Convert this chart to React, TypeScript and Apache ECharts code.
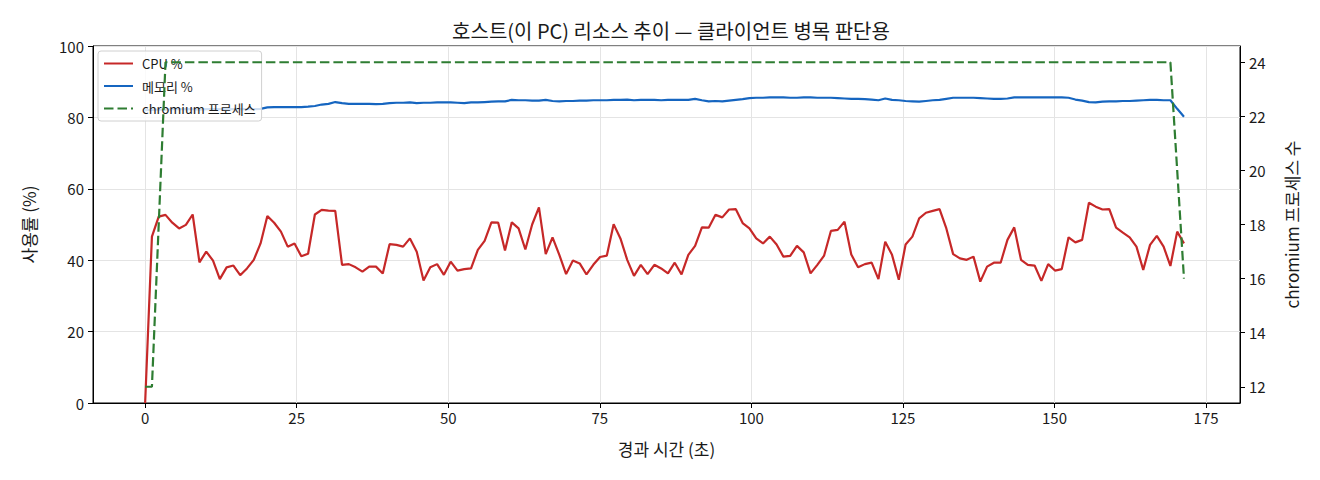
import { useEffect, useRef } from 'react';
import * as echarts from 'echarts';

// one sample roughly every 1.12 s
const SAMPLE_SEC = 1.12;

const cpuPct = [
  0, 46.6, 52.2, 52.7, 50.5, 48.9, 49.9, 52.8, 39.4, 42.4,
  39.9, 34.7, 38.0, 38.5, 35.8, 37.7, 40.1, 44.7, 52.4, 50.5,
  48.0, 43.8, 44.7, 41.1, 41.8, 52.8, 54.1, 53.9, 53.8, 38.7,
  38.9, 38.0, 36.8, 38.2, 38.2, 36.3, 44.5, 44.3, 43.8, 46.1,
  42.4, 34.3, 38.0, 38.9, 35.9, 39.6, 37.1, 37.5, 37.7, 42.9,
  45.4, 50.6, 50.5, 42.7, 50.6, 48.9, 43.0, 50.0, 54.8, 41.7,
  46.4, 41.5, 36.1, 39.9, 39.1, 36.0, 38.7, 40.9, 41.3, 50.1,
  46.1, 40.1, 35.6, 38.7, 36.1, 38.7, 37.7, 36.3, 39.3, 36.0,
  41.5, 44.0, 49.2, 49.1, 52.7, 52.0, 54.2, 54.3, 50.4, 48.9,
  46.1, 44.7, 46.6, 44.4, 41.0, 41.2, 44.0, 42.2, 36.3, 38.7,
  41.3, 48.2, 48.5, 50.8, 41.6, 38.0, 38.9, 39.3, 34.7, 45.2,
  41.5, 34.5, 44.4, 46.6, 51.7, 53.3, 53.8, 54.3, 48.9, 41.7,
  40.5, 40.1, 41.0, 34.0, 38.2, 39.3, 39.3, 45.7, 49.2, 40.1,
  38.7, 38.5, 34.2, 38.9, 37.1, 37.5, 46.4, 45.0, 45.7, 56.1,
  55.0, 54.2, 54.3, 49.1, 47.7, 46.4, 43.8, 37.3, 44.3, 46.8,
  43.8, 38.4, 48.0, 44.7,
];

const memPct = [
  82.0, 82.1, 82.2, 82.2, 82.3, 82.3, 82.3, 82.3, 82.2, 82.3,
  82.3, 82.3, 82.3, 82.3, 82.3, 82.3, 82.3, 82.4, 82.8, 82.9,
  82.9, 82.9, 82.9, 82.9, 83.0, 83.2, 83.6, 83.8, 84.3, 84.0,
  83.8, 83.8, 83.8, 83.8, 83.7, 83.8, 84.0, 84.1, 84.1, 84.2,
  84.0, 84.1, 84.1, 84.2, 84.2, 84.2, 84.1, 84.0, 84.2, 84.2,
  84.3, 84.4, 84.5, 84.5, 84.9, 84.8, 84.8, 84.7, 84.7, 84.9,
  84.6, 84.5, 84.6, 84.6, 84.7, 84.7, 84.8, 84.8, 84.8, 84.9,
  84.9, 85.0, 84.8, 84.9, 84.9, 84.9, 84.8, 84.9, 84.9, 84.9,
  84.9, 85.2, 84.8, 84.5, 84.6, 84.5, 84.7, 84.9, 85.1, 85.4,
  85.5, 85.5, 85.6, 85.6, 85.6, 85.5, 85.5, 85.6, 85.6, 85.5,
  85.5, 85.5, 85.4, 85.3, 85.2, 85.2, 85.1, 85.0, 84.8, 85.3,
  84.9, 84.8, 84.6, 84.5, 84.4, 84.6, 84.8, 84.9, 85.2, 85.5,
  85.5, 85.5, 85.5, 85.4, 85.3, 85.2, 85.2, 85.3, 85.6, 85.6,
  85.6, 85.6, 85.6, 85.6, 85.6, 85.6, 85.5, 85.0, 84.7, 84.3,
  84.2, 84.4, 84.5, 84.5, 84.6, 84.6, 84.7, 84.8, 84.9, 84.9,
  84.8, 84.8, 82.4, 80.2,
];

// [sample index, process count] where the count changes
const chromiumCount: [number, number][] = [
  [0, 12], [1, 12], [2, 18], [3, 24], [151, 24], [152, 20], [153, 16],
];

const xTicks = [0, 25, 50, 75, 100, 125, 150, 175];
const procTicks = [12, 14, 16, 18, 20, 22, 24];

const FONT = '"Noto Sans CJK KR", "Noto Sans", sans-serif';
const TXT = '#1a1a1a';
const LW = 2.2;

export default function App() {
  const ref = useRef<HTMLDivElement>(null);

  useEffect(() => {
    if (!ref.current) return;
    const chart = echarts.init(ref.current, undefined, { renderer: 'svg' });

    const cpuData = cpuPct.map((v, i) => [i * SAMPLE_SEC, v]);
    const memData = memPct.map((v, i) => [i * SAMPLE_SEC, v]);
    const procData = chromiumCount.map(([i, v]) => [i * SAMPLE_SEC, v]);

    chart.setOption({
      animation: false,
      textStyle: { fontFamily: FONT },
      title: {
        text: '호스트(이 PC) 리소스 추이 — 클라이언트 병목 판단용',
        left: 666,
        textAlign: 'center',
        top: 15,
        textStyle: { fontSize: 20, fontWeight: 'normal', color: TXT, fontFamily: FONT },
      },
      legend: {
        orient: 'vertical',
        left: 98,
        top: 51,
        z: 4,
        padding: [6, 6, 6, 5],
        itemGap: 9.5,
        itemWidth: 29,
        itemHeight: 14,
        backgroundColor: 'rgba(255,255,255,0.8)',
        borderColor: '#d0d0d0',
        borderWidth: 1,
        borderRadius: 3,
        itemStyle: { color: 'transparent', borderColor: 'transparent', borderWidth: 0 },
        textStyle: { fontSize: 13, color: TXT, fontFamily: FONT, padding: [0, 0, 0, 4] },
        data: ['CPU %', '메모리 %', 'chromium 프로세스'],
      },
      grid: {
        left: 93,
        right: 80,
        top: 46,
        bottom: 77,
        show: true,
        borderColor: '#000',
        borderWidth: 1,
        backgroundColor: 'transparent',
      },
      xAxis: {
        type: 'value',
        min: -8.6,
        max: 180.6,
        name: '경과 시간 (초)',
        nameLocation: 'middle',
        nameGap: 37,
        nameTextStyle: { fontSize: 17, color: TXT },
        axisLine: { show: true, onZero: false, lineStyle: { color: '#000', width: 1 } },
        axisTick: { show: true, length: 5, customValues: xTicks, lineStyle: { color: '#000' } },
        axisLabel: { customValues: xTicks, fontSize: 15, color: TXT, margin: 7 },
        splitLine: { show: true, lineStyle: { color: '#e4e4e4', width: 1 } },
      },
      yAxis: [
        {
          type: 'value',
          min: 0,
          max: 100,
          interval: 20,
          name: '사용률 (%)',
          nameLocation: 'middle',
          nameGap: 56,
          nameRotate: 90,
          nameTextStyle: { fontSize: 17, color: TXT },
          axisLine: { show: true, onZero: false, lineStyle: { color: '#000', width: 1 } },
          axisTick: { show: true, length: 5, lineStyle: { color: '#000' } },
          axisLabel: { fontSize: 15, color: TXT, margin: 9 },
          splitLine: { show: true, lineStyle: { color: '#e4e4e4', width: 1 } },
        },
        {
          type: 'value',
          position: 'right',
          min: 11.4,
          max: 24.6,
          name: 'chromium 프로세스 수',
          nameLocation: 'middle',
          nameGap: 43,
          nameRotate: 90,
          nameTextStyle: { fontSize: 17, color: TXT },
          axisLine: { show: true, onZero: false, lineStyle: { color: '#000', width: 1 } },
          axisTick: { show: true, length: 5, customValues: procTicks, lineStyle: { color: '#000' } },
          axisLabel: { customValues: procTicks, fontSize: 15, color: TXT, margin: 9 },
          splitLine: { show: false },
        },
      ],
      series: [
        {
          name: 'CPU %',
          type: 'line',
          data: cpuData,
          symbol: 'none',
          z: 2,
          lineStyle: { color: '#c62828', width: LW },
          itemStyle: { color: '#c62828' },
        },
        {
          name: '메모리 %',
          type: 'line',
          data: memData,
          symbol: 'none',
          z: 2,
          lineStyle: { color: '#1565c0', width: LW },
          itemStyle: { color: '#1565c0' },
        },
        {
          name: 'chromium 프로세스',
          type: 'line',
          yAxisIndex: 1,
          data: procData,
          symbol: 'none',
          z: 6,
          lineStyle: { color: '#2e7d32', width: LW, type: [9.5, 4] },
          itemStyle: { color: '#2e7d32' },
        },
      ],
    });

    return () => chart.dispose();
  }, []);

  return (
    <div
      ref={ref}
      style={{ position: 'fixed', left: 0, top: 0, width: 1320, height: 480, background: '#fff' }}
    />
  );
}
